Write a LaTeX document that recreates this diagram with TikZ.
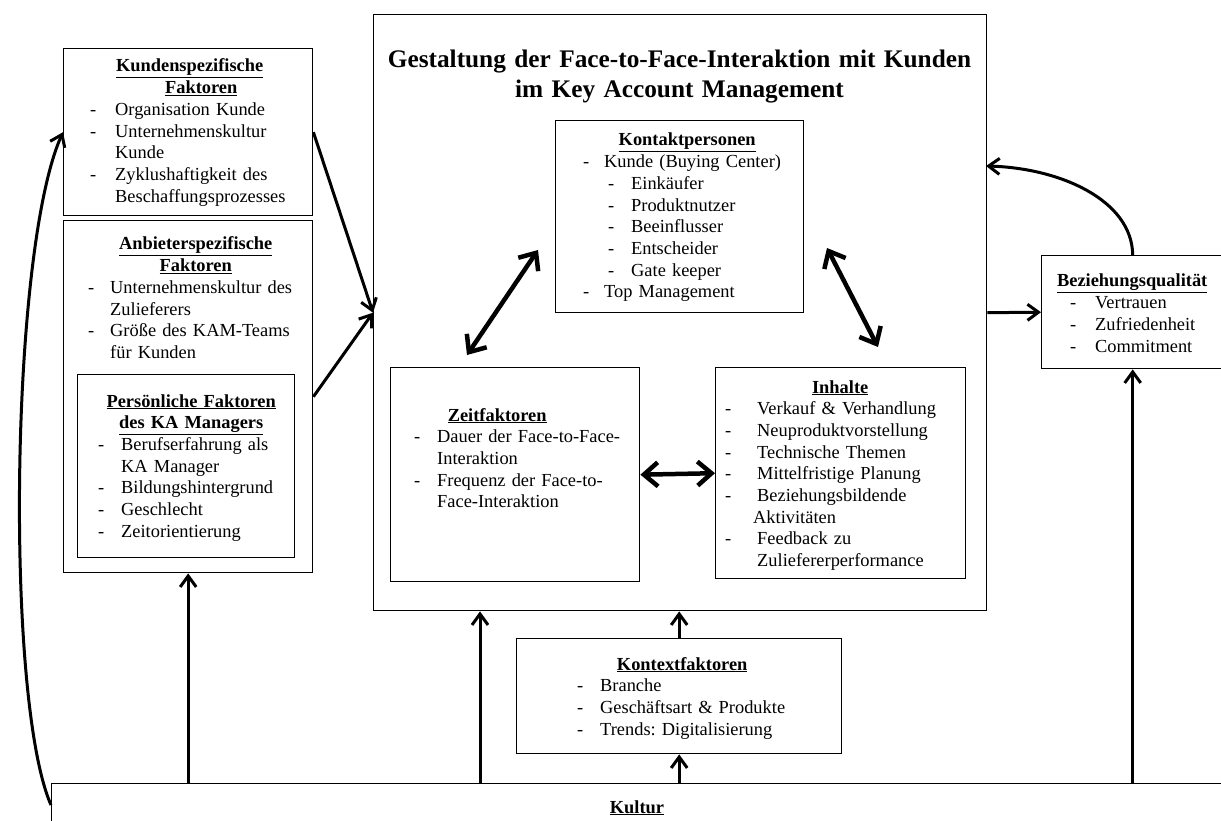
\documentclass[tikz,border=0pt]{standalone}
\usepackage{fontspec}
\setmainfont{Liberation Serif}
\usetikzlibrary{arrows.meta}
\setlength{\parindent}{0pt}
\setlength{\lineskiplimit}{-100pt}
\frenchspacing
% heading line (optional shift) and list item with dash
\newcommand{\kopf}[2][0pt]{{\leftskip=0pt plus 1fil\rightskip=0pt plus 1fil\parfillskip=0pt\hspace*{#1}\underline{\textbf{#2}}\par}}
\newcommand{\pkt}[3][0pt]{\par\hangindent=\dimexpr#1+#2\relax\hangafter=1\hspace*{#1}\makebox[#2][l]{-}#3\par}
\begin{document}
\begin{tikzpicture}[x=1pt,y=-1pt,
  box/.style={draw, line width=1.4pt, inner sep=0pt, anchor=north west},
  txt/.style={inner sep=0pt, anchor=base west, align=left, font=\fontsize{18.4}{21.7}\selectfont},
  titel/.style={inner sep=0pt, anchor=base, text width=620pt, align=center, font=\fontsize{25.3}{30}\selectfont\bfseries},
  pfeil/.style={line width=3pt, -{Straight Barb[length=11pt,width=16pt]}},
  dpfeil/.style={line width=4.5pt, {Straight Barb[length=14pt,width=24pt]}-{Straight Barb[length=14pt,width=24pt]}}]
\useasboundingbox (0,0) rectangle (1221,821);
% boxes
\node[box, minimum width=613pt, minimum height=596pt] (main) at (373,14) {};
\node[box, minimum width=249pt, minimum height=167pt] (kunden) at (63,48) {};
\node[box, minimum width=249pt, minimum height=352pt] (anbieter) at (63,220) {};
\node[box, minimum width=217pt, minimum height=183pt] (pers) at (77,374) {};
\node[box, minimum width=248pt, minimum height=192pt] (kontakt) at (555,120) {};
\node[box, minimum width=249pt, minimum height=214pt] (zeit) at (390,367) {};
\node[box, minimum width=250pt, minimum height=211pt] (inhalte) at (715,367) {};
\node[box, minimum width=182pt, minimum height=113pt] (bez) at (1041,255) {};
\node[box, minimum width=325pt, minimum height=115pt] (kontext) at (516,638) {};
\node[box, minimum width=1200pt, minimum height=100pt] (kultur) at (51,783) {};
%
\node[titel] (titel) at (679.5,68) {Gestaltung der Face-to-Face-Interaktion mit Kunden\\im Key Account Management};
\node[txt, text width=215pt] (kundentxt) at (90,72) {\kopf[-16pt]{Kundenspezifische}\kopf[7pt]{Faktoren}\pkt{25pt}{Organisation Kunde}\pkt{25pt}{Unternehmenskultur\newline Kunde}\pkt{25pt}{Zyklushaftigkeit des\newline Beschaffungsprozesses}};
\node[txt, text width=215pt] (anbietertxt) at (88,250) {\kopf{Anbieterspezifische}\kopf{Faktoren}\pkt{22pt}{Unternehmenskultur des\newline Zulieferers}\pkt{22pt}{Größe des KAM-Teams\newline für Kunden}};
\node[txt, text width=190pt] (perstxt) at (98,407) {\kopf[-4pt]{Persönliche Faktoren}\kopf[-4pt]{des KA Managers}\pkt{23pt}{Berufserfahrung als\newline KA Manager}\pkt{23pt}{Bildungshintergrund}\pkt{23pt}{Geschlecht}\pkt{23pt}{Zeitorientierung}};
\node[txt, text width=215pt] (kontakttxt) at (583,146) {\kopf[-7pt]{Kontaktpersonen}\pkt{21pt}{Kunde (Buying Center)}\pkt[25pt]{23pt}{Einkäufer}\pkt[25pt]{23pt}{Produktnutzer}\pkt[25pt]{23pt}{Beeinflusser}\pkt[25pt]{23pt}{Entscheider}\pkt[25pt]{23pt}{Gate keeper}\pkt{21pt}{Top Management}};
\node[txt, text width=215pt] (zeittxt) at (414,421) {\kopf[-49pt]{Zeitfaktoren}\pkt{23pt}{Dauer der Face-to-Face-\newline Interaktion}\pkt{23pt}{Frequenz der Face-to-\newline Face-Interaktion}};
\node[txt, text width=240pt] (inhaltetxt) at (725,393) {\kopf[-10pt]{Inhalte}\pkt{32pt}{Verkauf \& Verhandlung}\pkt{32pt}{Neuproduktvorstellung}\pkt{32pt}{Technische Themen}\pkt{32pt}{Mittelfristige Planung}\pkt{32pt}{Beziehungsbildende\newline\hspace*{-4pt}Aktivitäten}\pkt{32pt}{Feedback zu\newline Zuliefererperformance}};
\node[txt, text width=140pt] (beztxt) at (1070,287) {\kopf[-16pt]{Beziehungsqualität}\pkt{25pt}{Vertrauen}\pkt{25pt}{Zufriedenheit}\pkt{25pt}{Commitment}};
\node[txt, text width=230pt] (kontexttxt) at (577,670) {\kopf[-20pt]{Kontextfaktoren}\pkt{23pt}{Branche}\pkt{23pt}{Geschäftsart \& Produkte}\pkt{23pt}{Trends: Digitalisierung}};
\node[txt, anchor=base] (kulturtxt) at (637,813) {\underline{\textbf{Kultur}}};
% arrows
\draw[pfeil] (kunden.east) -- (main.west);
\draw[pfeil] (anbieter.east) -- (main.west);
\draw[pfeil] (main.east) -- (bez.west);
\coordinate (rueck) at (986,166);
\draw[pfeil] (bez.north) .. controls (1132,200) and (1060,168) .. (rueck);
%
\coordinate (kz1) at (538,250);
\coordinate (kz2) at (467,355);
\coordinate (ki1) at (827,248);
\coordinate (ki2) at (878,347);
\draw[dpfeil] (kz1) -- (kz2);
\draw[dpfeil] (ki1) -- (ki2);
\draw[dpfeil] (zeit.east) -- (inhalte.west);
%
\coordinate (k1) at (480,783);
\draw[pfeil] (k1) -- (k1 |- main.south);
\draw[pfeil] (anbieter.south |- kultur.north) -- (anbieter.south);
\draw[pfeil] (kontext.south |- kultur.north) -- (kontext.south);
\draw[pfeil] (kontext.north) -- (kontext.north |- main.south);
\draw[pfeil] (bez.south |- kultur.north) -- (bez.south);
\draw[pfeil] ([yshift=-22pt]kultur.north west) .. controls (5,700) and (10,250) .. (kunden.west);
\end{tikzpicture}
\end{document}
